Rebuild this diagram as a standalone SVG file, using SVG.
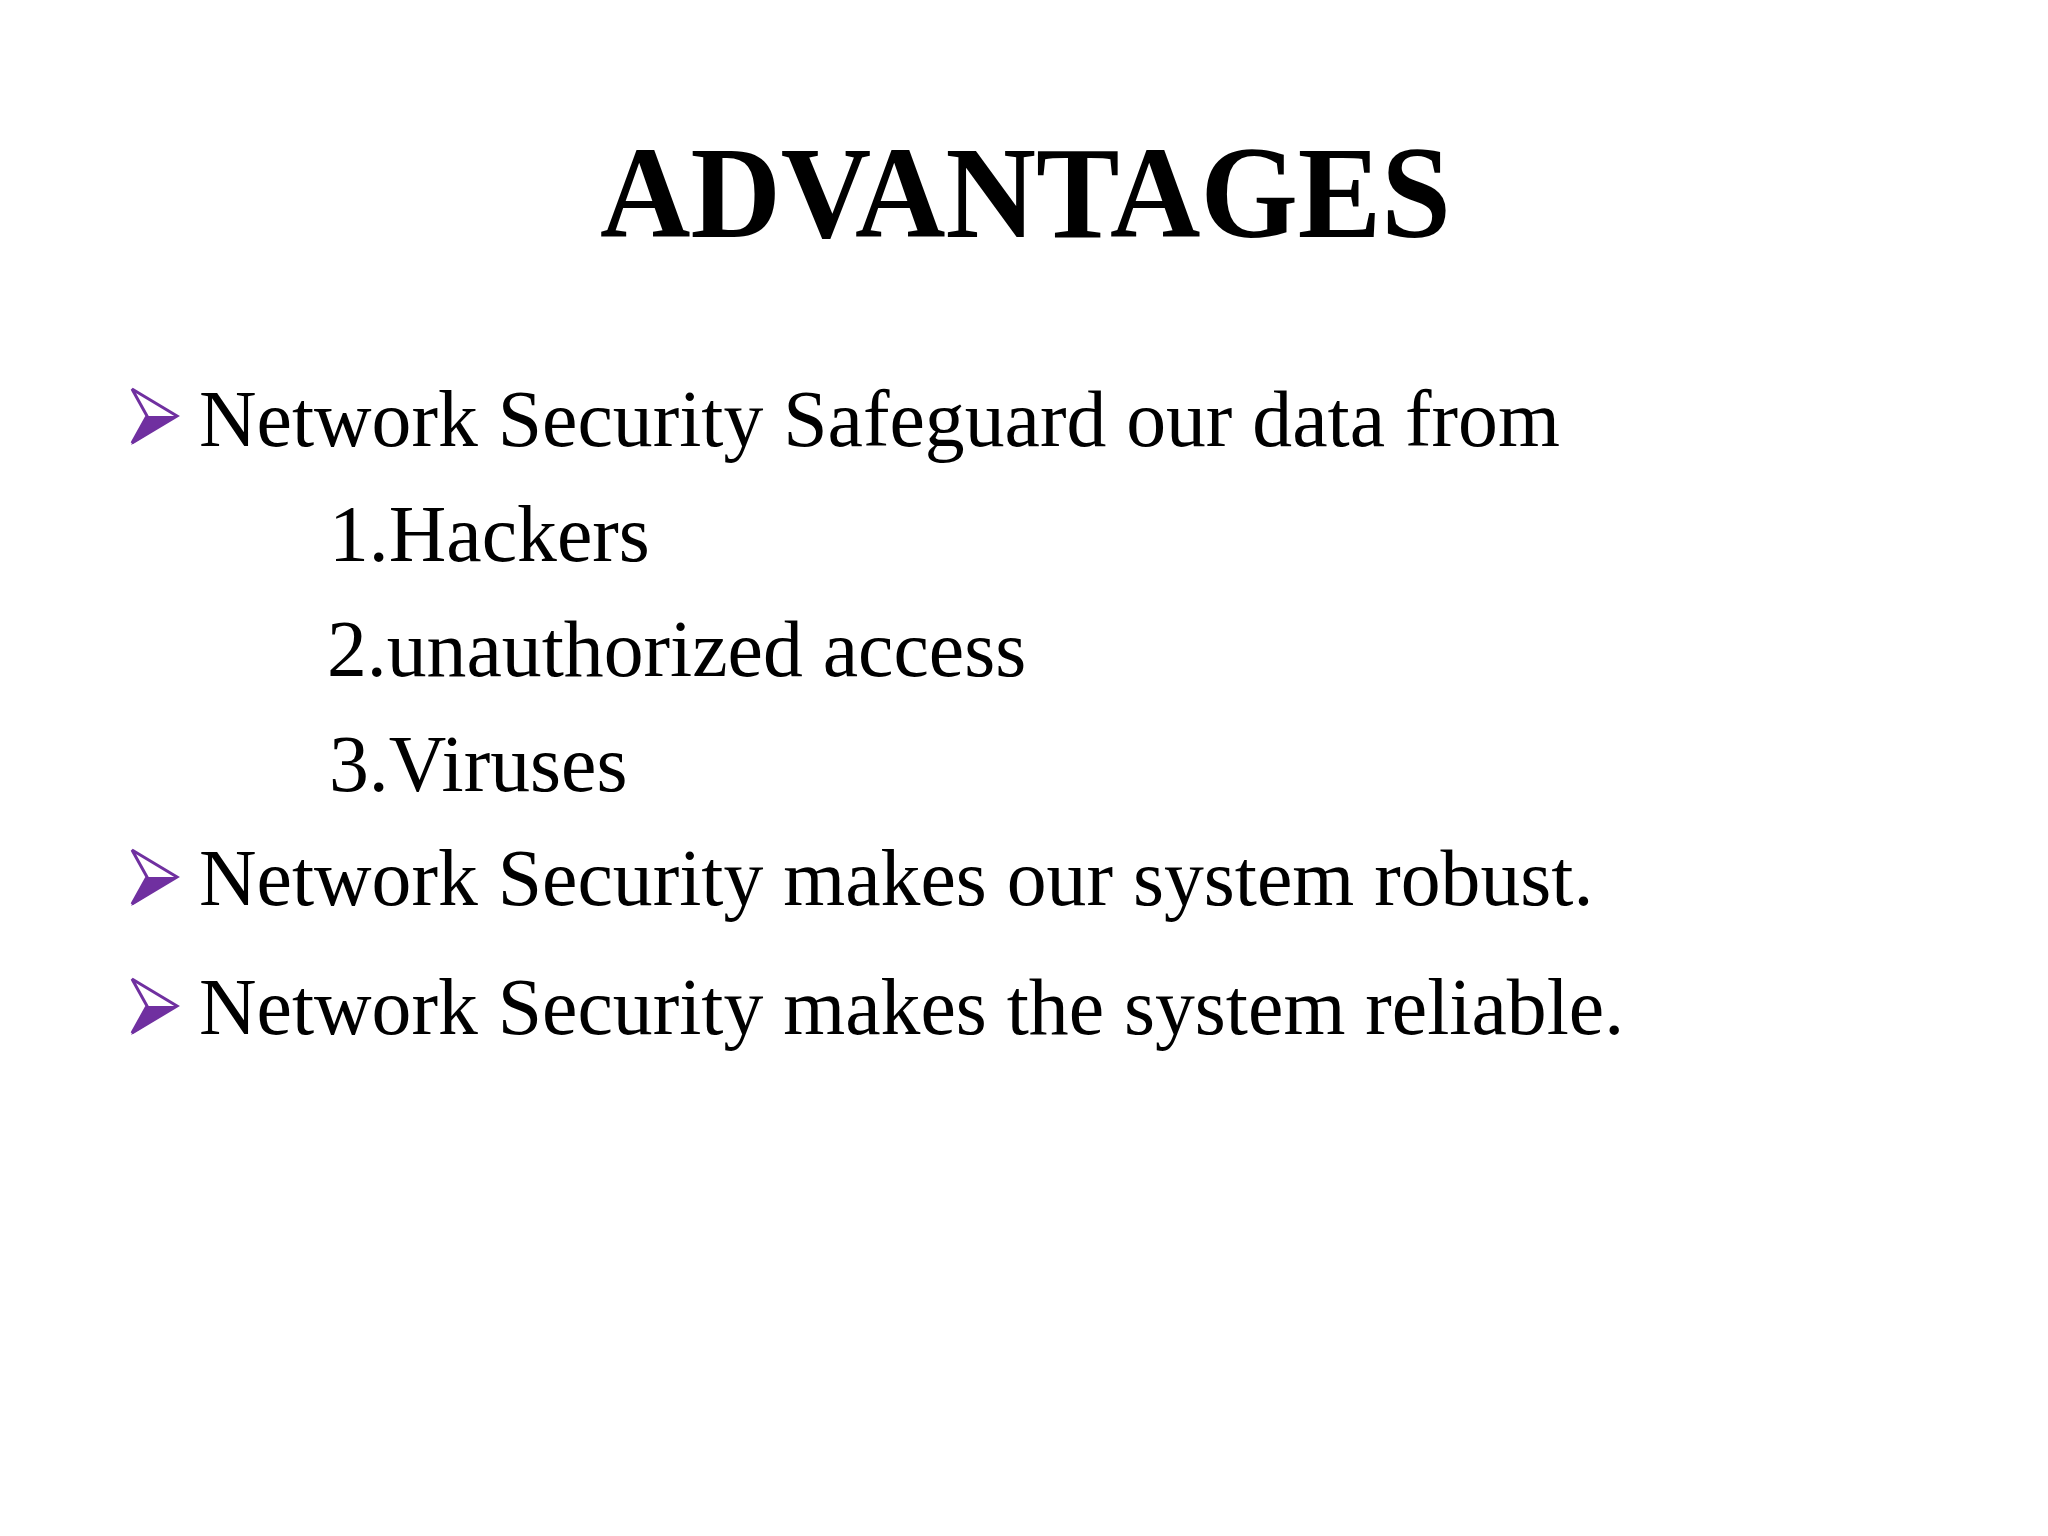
<svg xmlns="http://www.w3.org/2000/svg" width="2048" height="1536" viewBox="0 0 2048 1536">
<style>
text{font-family:"Liberation Serif","Times New Roman",serif;fill:#000}
.b{font-size:79.7px}
.t{font-size:131px;font-weight:bold}
.o{fill:none;stroke:#7030a0;stroke-width:3;stroke-linejoin:miter;stroke-miterlimit:3}
.f{fill:#7030a0}
</style>
<defs>
<g id="bullet"><path class="f" d="M1 58 L17 29 L47 29 Z"/><path class="o" d="M2 2 L47 29 L2 56 L17 29 Z"/></g>
</defs>
<rect width="2048" height="1536" fill="#fff"/>
<text class="t" x="600" y="237" textLength="851" lengthAdjust="spacingAndGlyphs">ADVANTAGES</text>
<use href="#bullet" x="130" y="387"/>
<text class="b" x="199" y="446">Network Security Safeguard our data from</text>
<text class="b" x="329" y="561">1.Hackers</text>
<text class="b" x="327" y="676">2.unauthorized access</text>
<text class="b" x="329" y="791">3.Viruses</text>
<use href="#bullet" x="130" y="848"/>
<text class="b" x="199" y="905">Network Security makes our system robust.</text>
<use href="#bullet" x="130" y="977"/>
<text class="b" x="199" y="1034">Network Security makes the system reliable.</text>
</svg>
